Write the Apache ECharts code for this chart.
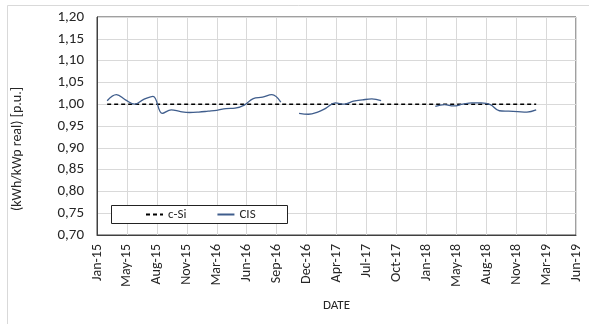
<!DOCTYPE html>
<html>
<head>
<meta charset="utf-8">
<script src="https://cdn.jsdelivr.net/npm/echarts@6/dist/echarts.min.js"></script>
<style>
  html, body { margin: 0; padding: 0; background: #ffffff; }
  #chart { width: 589px; height: 324px; }
</style>
</head>
<body>
<div id="chart"></div>
<script>
// Date axis: ticks every 100 days starting at 26 Jan 2015
const tickLabels = ['Jan-15', 'May-15', 'Aug-15', 'Nov-15', 'Mar-16', 'Jun-16', 'Sep-16', 'Dec-16',
  'Apr-17', 'Jul-17', 'Oct-17', 'Jan-18', 'May-18', 'Aug-18', 'Nov-18', 'Mar-19', 'Jun-19'];
const axisStart = [2015, 1, 26];
const tickStepDays = 100;

// Monthly samples (first day of each month)
const months = [
  '2015-03', '2015-04', '2015-05', '2015-06', '2015-07', '2015-08', '2015-09', '2015-10', '2015-11', '2015-12',
  '2016-01', '2016-02', '2016-03', '2016-04', '2016-05', '2016-06', '2016-07', '2016-08', '2016-09', '2016-10', '2016-11', '2016-12',
  '2017-01', '2017-02', '2017-03', '2017-04', '2017-05', '2017-06', '2017-07', '2017-08', '2017-09', '2017-10', '2017-11', '2017-12',
  '2018-01', '2018-02', '2018-03', '2018-04', '2018-05', '2018-06', '2018-07', '2018-08', '2018-09', '2018-10', '2018-11', '2018-12',
  '2019-01', '2019-02'
];

// c-Si reference (normalised to 1)
const cSiValues = [
  1, 1, 1, 1, 1, 1, 1, 1, 1, 1,
  1, 1, 1, 1, 1, 1, 1, 1, 1, 1, 1, 1,
  1, 1, 1, 1, 1, 1, 1, 1, 1, 1, 1, 1,
  1, 1, 1, 1, 1, 1, 1, 1, 1, 1, 1, 1,
  1, 1
];

// CIS relative yield (null = no data)
const cisValues = [
  1.008, 1.022, 1.010, 1.000, 1.011, 1.018, 0.979, 0.987, 0.983, 0.981,
  0.982, 0.984, 0.986, 0.990, 0.991, 0.998, 1.013, 1.016, 1.022, 1.005, null, 0.979,
  0.977, 0.982, 0.991, 1.003, 1.000, 1.007, 1.010, 1.012, 1.008, null, null, null,
  null, null, 0.995, 0.999, 0.996, 1.000, 1.003, 1.003, 0.999, 0.985, 0.984, 0.983,
  0.982, 0.987
];

const yMin = 0.70, yMax = 1.20, yStep = 0.05;

const t0 = Date.UTC(axisStart[0], axisStart[1] - 1, axisStart[2]);
function dayOffset(ym) {
  const [y, m] = ym.split('-').map(Number);
  return (Date.UTC(y, m - 1, 1) - t0) / 86400000;
}
function pairs(values) {
  return months.map((m, i) => [dayOffset(m), values[i]]);
}

const font = 'Carlito, Calibri, "Liberation Sans", Arial, sans-serif';
const textColor = '#262626';
const chart = echarts.init(document.getElementById('chart'), null, { renderer: 'canvas' });

chart.setOption({
  animation: false,
  backgroundColor: '#ffffff',
  grid: {
    left: 97, right: 13, top: 17, bottom: 89,
    show: true, borderColor: '#404040', borderWidth: 1, backgroundColor: 'transparent'
  },
  xAxis: {
    type: 'value',
    min: 0,
    max: tickStepDays * (tickLabels.length - 1),
    interval: tickStepDays,
    name: 'DATE',
    nameLocation: 'middle',
    nameGap: 64,
    nameTextStyle: { fontFamily: font, fontSize: 13, color: textColor },
    axisLine: { show: true, lineStyle: { color: '#404040', width: 1 } },
    axisTick: { show: false },
    axisLabel: {
      rotate: 90,
      margin: 9,
      fontFamily: font,
      fontSize: 14,
      color: textColor,
      formatter: v => tickLabels[Math.round(v / tickStepDays)] || ''
    },
    splitLine: { show: true, lineStyle: { color: '#d9d9d9', width: 1 } }
  },
  yAxis: {
    type: 'value',
    min: yMin,
    max: yMax,
    interval: yStep,
    axisLine: { show: true, lineStyle: { color: '#404040', width: 1 } },
    axisTick: { show: false },
    axisLabel: {
      margin: 13,
      fontFamily: font,
      fontSize: 15,
      color: textColor,
      formatter: v => v.toFixed(2).replace('.', ',')
    },
    splitLine: { show: true, lineStyle: { color: '#d9d9d9', width: 1 } }
  },
  legend: {
    left: 145,
    top: 208,
    z: 20,
    itemGap: 30,
    itemWidth: 17,
    itemHeight: 10,
    padding: 0,
    itemStyle: { color: 'rgba(0,0,0,0)', borderWidth: 0 },
    textStyle: { fontFamily: font, fontSize: 13, color: textColor },
    data: ['c-Si', 'CIS']
  },
  graphic: [
    {
      type: 'rect',
      shape: { x: 7.5, y: 5.5, width: 590, height: 330 },
      style: { fill: 'none', stroke: '#d9d9d9', lineWidth: 1 },
      silent: true, z: -10
    },
    {
      type: 'rect',
      shape: { x: 111.5, y: 205.5, width: 176, height: 18 },
      style: { fill: '#ffffff', stroke: '#222222', lineWidth: 1 },
      silent: true, z: 1
    },
    {
      type: 'text',
      x: 17,
      y: 149,
      rotation: Math.PI / 2,
      style: {
        text: '(kWh/kWp real) [p.u.]',
        fontFamily: font,
        fontSize: 14,
        fill: textColor,
        align: 'center',
        verticalAlign: 'middle'
      },
      silent: true
    }
  ],
  series: [
    {
      name: 'c-Si',
      type: 'line',
      data: pairs(cSiValues),
      symbol: 'none',
      z: 3,
      lineStyle: { color: '#000000', width: 1.6, type: [4, 3] },
      itemStyle: { color: '#000000' }
    },
    {
      name: 'CIS',
      type: 'line',
      data: pairs(cisValues),
      symbol: 'none',
      smooth: 0.4,
      connectNulls: false,
      z: 4,
      lineStyle: { color: '#3f5d8c', width: 1.3 },
      itemStyle: { color: '#3f5d8c' }
    }
  ]
});
</script>
</body>
</html>
